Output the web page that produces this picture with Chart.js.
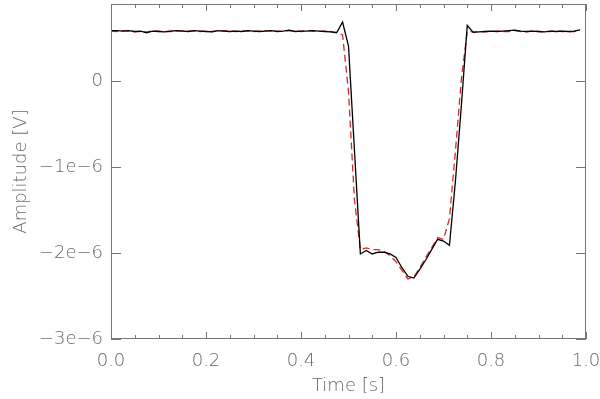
<!DOCTYPE html>
<html>
<head>
<meta charset="utf-8">
<title>Amplitude vs time</title>
<script src="https://cdn.jsdelivr.net/npm/chart.js@4.4.1/dist/chart.umd.min.js"></script>
<style>
  html, body { margin: 0; padding: 0; background: #fff; }
</style>
</head>
<body>
<canvas id="chart" width="600" height="399"></canvas>
<script>
// sample times [s]
const times = [
  0, 0.0125, 0.025, 0.0375, 0.05, 0.0625, 0.075, 0.0875,
  0.1, 0.1125, 0.125, 0.1375, 0.15, 0.1625, 0.175, 0.1875,
  0.2, 0.2125, 0.225, 0.2375, 0.25, 0.2625, 0.275, 0.2875,
  0.3, 0.3125, 0.325, 0.3375, 0.35, 0.3625, 0.375, 0.3875,
  0.4, 0.4125, 0.425, 0.4375, 0.45, 0.4625, 0.475, 0.4875,
  0.5, 0.5125, 0.525, 0.5375, 0.55, 0.5625, 0.575, 0.5875,
  0.6, 0.6125, 0.625, 0.6375, 0.65, 0.6625, 0.675, 0.6875,
  0.7, 0.7125, 0.725, 0.7375, 0.75, 0.7625, 0.775, 0.7875,
  0.8, 0.8125, 0.825, 0.8375, 0.85, 0.8625, 0.875, 0.8875,
  0.9, 0.9125, 0.925, 0.9375, 0.95, 0.9625, 0.975, 0.9875
];

// measured signal, in units of 1e-6 V
const measured = [
  0.59, 0.59, 0.585, 0.59, 0.58, 0.585, 0.565, 0.585,
  0.58, 0.575, 0.585, 0.59, 0.585, 0.58, 0.59, 0.585,
  0.58, 0.575, 0.59, 0.585, 0.58, 0.585, 0.58, 0.59,
  0.585, 0.58, 0.585, 0.59, 0.58, 0.585, 0.595, 0.58,
  0.585, 0.585, 0.59, 0.585, 0.58, 0.575, 0.565, 0.69,
  0.41, -0.80, -2.01, -1.97, -2.01, -1.99, -1.99, -2.01,
  -2.05, -2.17, -2.27, -2.29, -2.19, -2.08, -1.96, -1.84,
  -1.86, -1.91, -1.17, -0.29, 0.65, 0.57, 0.575, 0.58,
  0.585, 0.58, 0.585, 0.59, 0.595, 0.585, 0.58, 0.585,
  0.58, 0.575, 0.585, 0.58, 0.585, 0.58, 0.585, 0.60
];

// model / fit, in units of 1e-6 V
const model = [
  0.585, 0.58, 0.59, 0.585, 0.575, 0.58, 0.575, 0.59,
  0.585, 0.58, 0.58, 0.585, 0.59, 0.585, 0.585, 0.58,
  0.585, 0.58, 0.585, 0.59, 0.585, 0.58, 0.585, 0.585,
  0.58, 0.585, 0.59, 0.585, 0.585, 0.58, 0.59, 0.585,
  0.58, 0.59, 0.585, 0.58, 0.585, 0.58, 0.57, 0.54,
  -0.12, -1.38, -1.96, -1.94, -1.96, -1.96, -1.98, -2.03,
  -2.10, -2.20, -2.30, -2.28, -2.17, -2.05, -1.94, -1.82,
  -1.84, -1.60, -0.82, 0.02, 0.58, 0.575, 0.58, 0.575,
  0.58, 0.585, 0.58, 0.58, 0.59, 0.58, 0.575, 0.585,
  0.58, 0.575, 0.58, 0.585, 0.58, 0.575, 0.58, 0.595
];

const xTicks = [0, 0.2, 0.4, 0.6, 0.8, 1.0];
const xMinorTicks = [0.05, 0.1, 0.15, 0.25, 0.3, 0.35, 0.45, 0.5, 0.55, 0.65, 0.7, 0.75, 0.85, 0.9, 0.95];
const yTicks = [-3e-6, -2e-6, -1e-6, 0];
const yLabels = ['\u22123e\u22126', '\u22122e\u22126', '\u22121e\u22126', '0'];

const textFont = { family: 'DejaVu Sans', size: 18, weight: '200' };
const textColor = '#6a6a6a';
const axisColor = '#777';

function toPoints(values) {
  return values.map((v, i) => ({ x: times[i], y: v * 1e-6 }));
}

// IDL style box with inward tick marks
const boxAxes = {
  id: 'boxAxes',
  afterDraw(chart) {
    const { ctx, chartArea: a } = chart;
    const x = chart.scales.x;
    const y = chart.scales.y;
    ctx.save();
    ctx.strokeStyle = axisColor;
    ctx.lineWidth = 1;
    ctx.strokeRect(a.left + 0.5, a.top + 0.5, a.right - a.left - 1, a.bottom - a.top - 1);
    ctx.beginPath();
    const xTick = (v, len) => {
      const px = Math.round(x.getPixelForValue(v)) + 0.5;
      ctx.moveTo(px, a.bottom);
      ctx.lineTo(px, a.bottom - len);
      ctx.moveTo(px, a.top);
      ctx.lineTo(px, a.top + len);
    };
    xTicks.forEach(v => xTick(v, 7));
    xMinorTicks.forEach(v => xTick(v, 4));
    yTicks.forEach(v => {
      const py = Math.round(y.getPixelForValue(v)) + 0.5;
      ctx.moveTo(a.left, py);
      ctx.lineTo(a.left + 10, py);
      ctx.moveTo(a.right, py);
      ctx.lineTo(a.right - 10, py);
    });
    ctx.stroke();
    ctx.restore();
  }
};

const ctx = document.getElementById('chart').getContext('2d');
const chart = new Chart(ctx, {
  type: 'line',
  data: {
    datasets: [
      {
        label: 'measured',
        data: toPoints(measured),
        borderColor: '#000',
        borderWidth: 1.3,
        pointRadius: 0,
        tension: 0,
        fill: false
      },
      {
        label: 'model',
        data: toPoints(model),
        borderColor: '#d42a2a',
        borderWidth: 1.3,
        borderDash: [7, 4],
        pointRadius: 0,
        tension: 0,
        fill: false
      }
    ]
  },
  options: {
    responsive: false,
    animation: false,
    layout: { padding: { left: 0, top: 4, right: 14, bottom: 0 } },
    plugins: {
      legend: { display: false },
      tooltip: { enabled: false }
    },
    scales: {
      x: {
        type: 'linear',
        min: 0,
        max: 1,
        grid: { display: false, drawTicks: false },
        border: { display: false },
        afterBuildTicks: scale => { scale.ticks = xTicks.map(v => ({ value: v })); },
        afterFit: scale => {
          scale.height = 60;
          scale.paddingLeft = 0;
          scale.paddingRight = 0;
        },
        ticks: {
          color: textColor,
          font: textFont,
          padding: 12,
          maxRotation: 0,
          callback: v => Number(v).toFixed(1)
        },
        title: {
          display: true,
          text: 'Time [s]',
          color: textColor,
          font: textFont,
          padding: { top: 0, bottom: 2 }
        }
      },
      y: {
        type: 'linear',
        min: -3e-6,
        max: 0.9e-6,
        grid: { display: false, drawTicks: false },
        border: { display: false },
        afterBuildTicks: scale => { scale.ticks = yTicks.map(v => ({ value: v })); },
        afterFit: scale => {
          scale.width = 111;
          scale.paddingTop = 0;
          scale.paddingBottom = 0;
        },
        ticks: {
          color: textColor,
          font: textFont,
          padding: 8,
          callback: (v, i) => yLabels[i]
        },
        title: {
          display: true,
          text: 'Amplitude [V]',
          color: textColor,
          font: textFont,
          padding: { top: 11, bottom: 0 }
        }
      }
    }
  },
  plugins: [boxAxes]
});
</script>
</body>
</html>
